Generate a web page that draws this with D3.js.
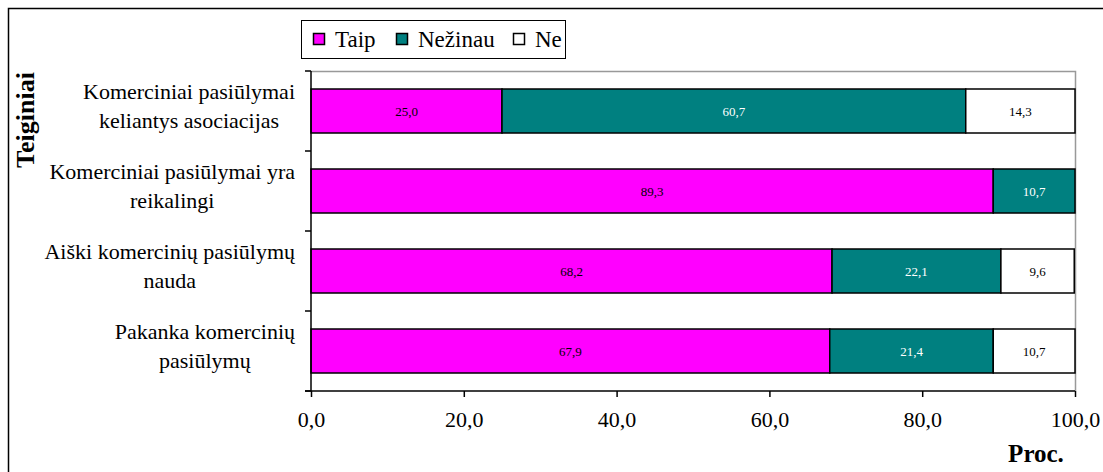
<!DOCTYPE html>
<html><head><meta charset="utf-8">
<script src="https://cdn.jsdelivr.net/npm/d3@7"></script>
<style>body{margin:0;background:#fff}svg{display:block}svg text{font-family:"Liberation Serif","Times New Roman",serif !important}</style>
</head><body><svg id="c" width="1103" height="472"></svg>
<script>
const categories = [
  ["Komerciniai pasiūlymai", "keliantys asociacijas"],
  ["Komerciniai pasiūlymai yra", "reikalingi"],
  ["Aiški komercinių pasiūlymų", "nauda"],
  ["Pakanka komercinių", "pasiūlymų"]
];
const seriesNames = ["Taip", "Nežinau", "Ne"];
const taip = [25.0, 89.3, 68.2, 67.9];
const nezinau = [60.7, 10.7, 22.1, 21.4];
const ne = [14.3, 0, 9.6, 10.7];
const xTicks = [0, 20, 40, 60, 80, 100];
const colors = ["#FF00FF", "#008080", "#FFFFFF"];
const labelColors = ["#000", "#fff", "#000"];

const svg = d3.select("#c");
const L = 311, R = 1075, T = 71, B = 391;
svg.append("path").attr("d", "M8.5,472 V8.5 H1103").attr("fill", "none").attr("stroke", "#000").attr("stroke-width", 1.5);

const x = d3.scaleLinear().domain([0, 100]).range([L, R]);
const idx = categories.map((d, i) => i);
const y = d3.scaleBand().domain(idx).range([T, B]).paddingInner(0.45).paddingOuter(0.225);

svg.append("path").attr("d", `M${L},${T+0.5} H${R+0.5} V${B}`).attr("fill", "none").attr("stroke", "#999").attr("stroke-width", 1.5);

const stackData = idx.map(i => ({i, Taip: taip[i], "Nežinau": nezinau[i], Ne: ne[i]}));
const stack = d3.stack().keys(seriesNames)(stackData);

stack.forEach((s, k) => {
  const g = svg.append("g");
  const vis = s.filter(d => d[1] - d[0] > 0);
  g.selectAll("rect").data(vis).join("rect")
    .attr("x", d => x(d[0])).attr("width", d => x(d[1]) - x(d[0]))
    .attr("y", d => y(d.data.i)).attr("height", y.bandwidth())
    .attr("fill", colors[k]).attr("stroke", "#000").attr("stroke-width", 1.5);
  g.selectAll("text").data(vis).join("text")
    .attr("x", d => (x(d[0]) + x(d[1])) / 2).attr("y", d => y(d.data.i) + y.bandwidth() / 2 + 4.5)
    .attr("text-anchor", "middle").style("font-size", "13px")
    .attr("fill", labelColors[k]).text(d => d3.format(".1f")(d[1] - d[0]).replace(".", ","));
});

svg.append("line").attr("x1", L).attr("x2", L).attr("y1", T).attr("y2", B).attr("stroke", "#000").attr("stroke-width", 1.5);
const bounds = idx.map(i => T + i * (B - T) / categories.length).concat([B]);
svg.selectAll(".yt").data(bounds).join("line").attr("x1", L - 6).attr("x2", L).attr("y1", d => d).attr("y2", d => d).attr("stroke", "#000").attr("stroke-width", 1.5);

const xAxis = svg.append("g").attr("transform", `translate(0,${B})`)
  .call(d3.axisBottom(x).tickValues(xTicks).tickSize(6).tickSizeOuter(0).tickFormat(d => d3.format(".1f")(d).replace(".", ",")));
xAxis.select(".domain").remove();
xAxis.append("line").attr("x1", L - 6).attr("x2", R).attr("stroke", "#000").attr("stroke-width", 1.5);
xAxis.selectAll(".tick line").attr("stroke", "#000").attr("stroke-width", 1.5);
xAxis.selectAll(".tick text").style("font-size", "22px").attr("fill", "#000").attr("y", 36).attr("dy", null);

const catG = svg.append("g");
categories.forEach((lines, i) => {
  const cy = y(i) + y.bandwidth() / 2;
  const ws = lines.map(s => { const e = catG.append("text").style("font-size", "22px").text(s); const w = e.node().getComputedTextLength(); e.remove(); return w; });
  const cx = L - 16 - d3.max(ws) / 2;
  const t = catG.append("text").style("font-size", "22px").attr("text-anchor", "middle");
  lines.forEach((s, j) => {
    t.append("tspan").attr("x", cx).attr("y", cy - 12 + j * 29).text(s);
  });
});

svg.append("text").attr("transform", "translate(34,120) rotate(-90)").attr("text-anchor", "middle")
  .style("font-size", "26px").attr("font-weight", "bold").text("Teiginiai");
svg.append("text").attr("x", 1036).attr("y", 462).attr("text-anchor", "middle")
  .style("font-size", "25px").attr("font-weight", "bold").text("Proc.");

const lg = svg.append("g");
lg.append("rect").attr("x", 301.5).attr("y", 20.5).attr("width", 264).attr("height", 38).attr("fill", "#fff").attr("stroke", "#000").attr("stroke-width", 1);
const lx = [313, 396, 513];
seriesNames.forEach((n, k) => {
  lg.append("rect").attr("x", lx[k] + 0.5).attr("y", 33.5).attr("width", 11).attr("height", 11).attr("fill", colors[k]).attr("stroke", "#000").attr("stroke-width", 1.5);
  lg.append("text").attr("x", lx[k] + 22).attr("y", 47).style("font-size", "23px").text(n);
});
</script></body></html>
